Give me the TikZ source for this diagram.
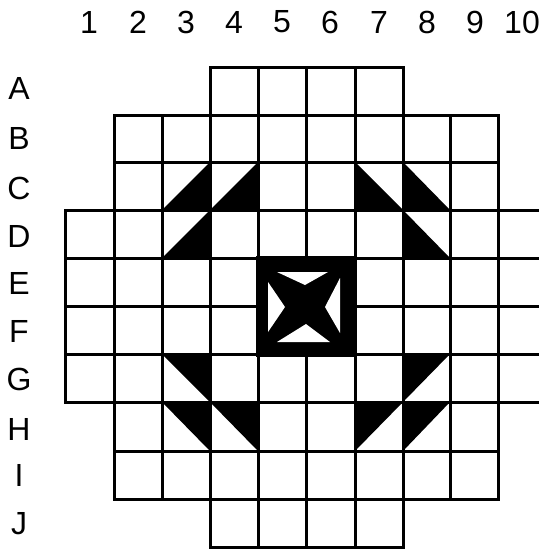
\documentclass[tikz,border=0pt]{standalone}
\usepackage{fontspec}
\setmainfont{Liberation Sans}
\begin{document}
\begin{tikzpicture}[x=1pt,y=-1pt,
  grid/.style={line width=3pt, line join=miter},
  lab/.style={font=\fontsize{32}{32}\selectfont, inner sep=0pt},
  tri/.style={fill=black}]
\useasboundingbox (0,0) rectangle (539,549);
% rows A and J: columns 4-7
\foreach \ya/\yb in {67/115, 499/547}
  \foreach \xa/\xb in {210/258,258/306,306/355,355/403}
    \draw[grid] (\xa,\ya) rectangle (\xb,\yb);
% rows B, C, H, I: columns 2-9
\foreach \ya/\yb in {115/162,162/210,402/451,451/499}
  \foreach \xa/\xb in {114/162,162/210,210/258,258/306,306/355,355/403,403/450,450/498}
    \draw[grid] (\xa,\ya) rectangle (\xb,\yb);
% rows D-G: columns 1-10 (column 10 open at the right edge)
\foreach \ya/\yb in {210/258,258/306,306/354,354/402}{
  \foreach \xa/\xb in {65/114,114/162,162/210,210/258,258/306,306/355,355/403,403/450,450/498}
    \draw[grid] (\xa,\ya) rectangle (\xb,\yb);
  \draw[grid] (498,\ya) -- (539,\ya) (498,\yb) -- (539,\yb);
}
% black half-squares
\fill[tri] (162,210) -- (210,210) -- (210,162) -- cycle; % C3
\fill[tri] (210,210) -- (258,210) -- (258,162) -- cycle; % C4
\fill[tri] (162,258) -- (210,258) -- (210,210) -- cycle; % D3
\fill[tri] (355,162) -- (355,210) -- (403,210) -- cycle; % C7
\fill[tri] (403,162) -- (403,210) -- (450,210) -- cycle; % C8
\fill[tri] (403,210) -- (403,258) -- (450,258) -- cycle; % D8
\fill[tri] (162,354) -- (210,354) -- (210,402) -- cycle; % G3
\fill[tri] (162,402) -- (210,402) -- (210,451) -- cycle; % H3
\fill[tri] (210,402) -- (258,402) -- (258,451) -- cycle; % H4
\fill[tri] (403,354) -- (450,354) -- (403,402) -- cycle; % G8
\fill[tri] (355,402) -- (403,402) -- (355,451) -- cycle; % H7
\fill[tri] (403,402) -- (450,402) -- (403,451) -- cycle; % H8
% central block with star
\fill[black] (256,256) rectangle (357,357);
\fill[white] (277,272) -- (328,272) -- (305,285) -- cycle;
\fill[white] (268,282) -- (268,332) -- (285,307) -- cycle;
\fill[white] (340,278) -- (340,333) -- (325,307) -- cycle;
\fill[white] (277,342) -- (330,342) -- (306,324) -- cycle;
% column labels
\foreach \t/\x in {1/89,2/138,3/186,4/234,5/282,6/330,7/379,8/427,9/475,10/522}
  \node[lab] (col\t) at (\x,22) {\t};
% row labels
\foreach \t/\y in {A/88,B/138,C/188,D/236,E/283,F/331,G/379,H/429,I/475,J/524}
  \node[lab] (row\t) at (19,\y) {\t};
\end{tikzpicture}
\end{document}
